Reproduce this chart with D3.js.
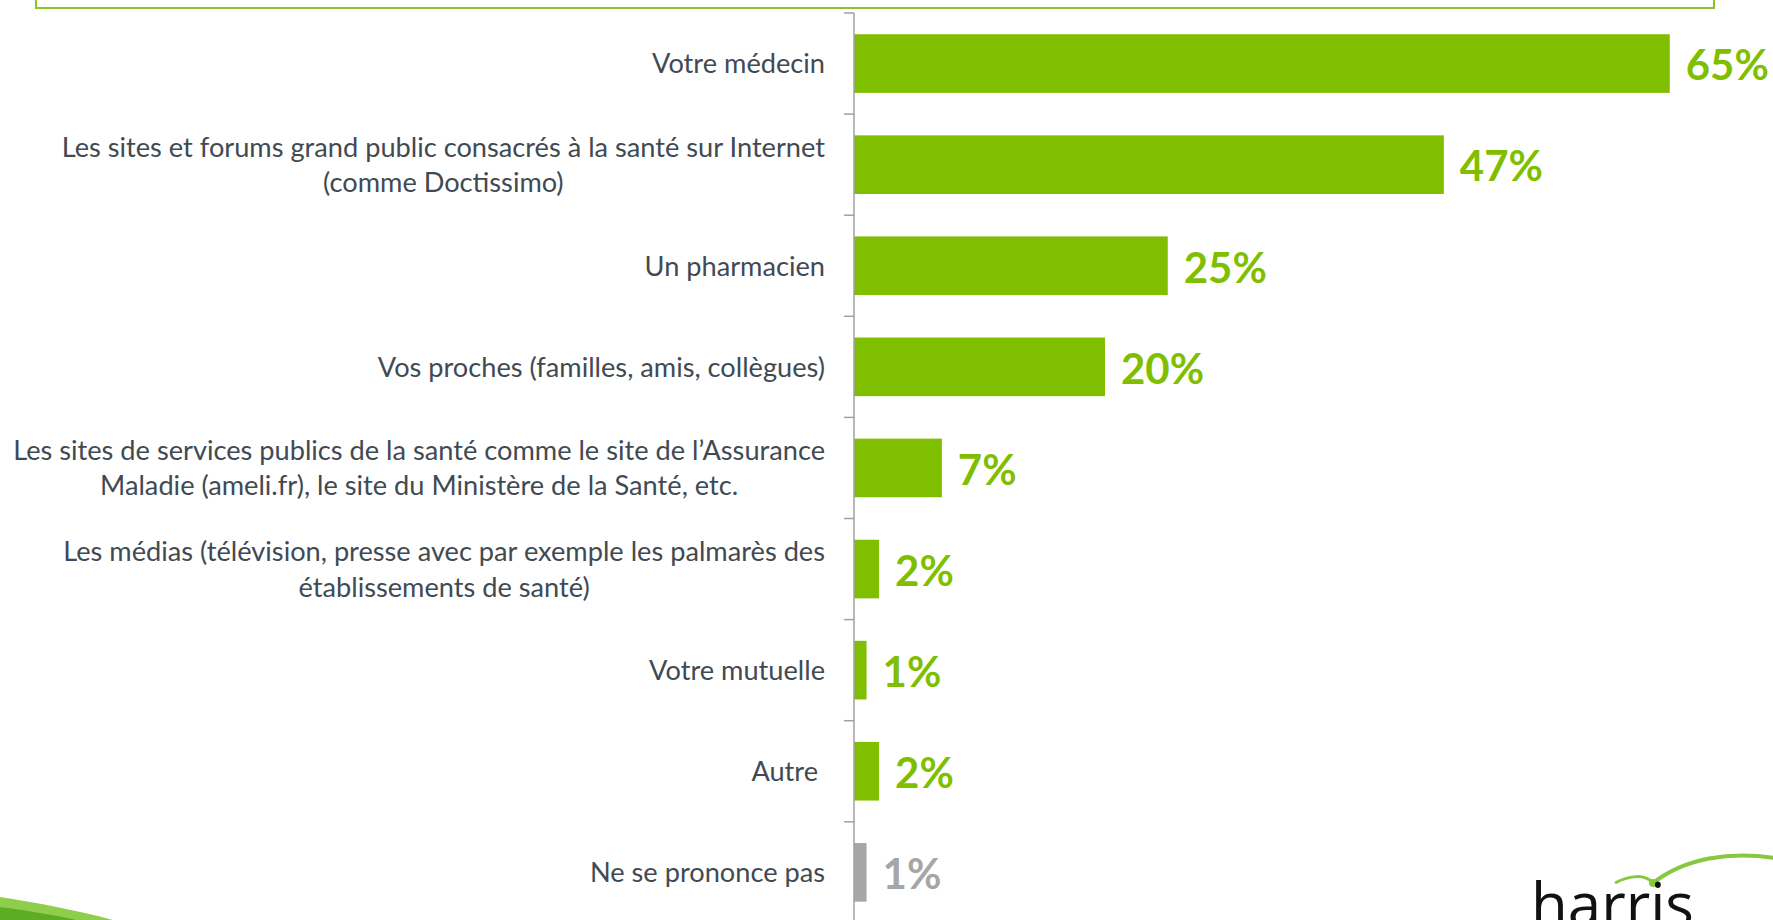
<!DOCTYPE html>
<html>
<head>
<meta charset="utf-8">
<script src="https://cdnjs.cloudflare.com/ajax/libs/d3/7.8.5/d3.min.js"></script>
<style>
    html, body { margin: 0; padding: 0; background: #fff; overflow: hidden; }
    svg { display: block; }
</style>
</head>
<body>
<svg id="chart" width="1773" height="920"></svg>
<script>
// categories (one array entry per line of the label)
var categories = [
    ["Votre médecin"],
    ["Les sites et forums grand public consacrés à la santé sur Internet", "(comme Doctissimo)"],
    ["Un pharmacien"],
    ["Vos proches (familles, amis, collègues)"],
    ["Les sites de services publics de la santé comme le site de l\u2019Assurance", "Maladie (ameli.fr), le site du Ministère de la Santé, etc."],
    ["Les médias (télévision, presse avec par exemple les palmarès des", "établissements de santé)"],
    ["Votre mutuelle"],
    ["Autre\u00a0"],
    ["Ne se prononce pas"]
];
var values = [65, 47, 25, 20, 7, 2, 1, 2, 1];
var isNoAnswer = [false, false, false, false, false, false, false, false, true];

var green = "#7fbf00";
var grey = "#a6a6a6";
var textColor = "#414a52";

var svg = d3.select("#chart");
var width = 1773, height = 920;

var axisX = 854;

var x = d3.scaleLinear()
    .domain([0, 100])
    .range([axisX, axisX + 1255]);

var y = d3.scaleBand()
    .domain(d3.range(categories.length))
    .range([13, 13 + 101.1 * categories.length])
    .paddingInner(0.42)
    .paddingOuter(0.21);

// question box bottom border (box is cut at the top of the slide)
svg.append("rect")
    .attr("x", 36)
    .attr("y", -40)
    .attr("width", 1678)
    .attr("height", 48)
    .attr("fill", "none")
    .attr("stroke", "#86c324")
    .attr("stroke-width", 2);

// bars
svg.append("g")
    .selectAll("rect")
    .data(values)
    .join("rect")
    .attr("x", x(0))
    .attr("y", function(d, i) { return y(i); })
    .attr("width", function(d) { return x(d) - x(0); })
    .attr("height", y.bandwidth())
    .attr("fill", function(d, i) { return isNoAnswer[i] ? grey : green; });

// value labels
svg.append("g")
    .selectAll("text")
    .data(values)
    .join("text")
    .attr("x", function(d) { return x(d) + 16; })
    .attr("y", function(d, i) { return y(i) + y.bandwidth() / 2; })
    .attr("dy", "0.4em")
    .attr("font-family", "Lato, sans-serif")
    .attr("font-weight", "bold")
    .attr("font-size", 42)
    .attr("fill", function(d, i) { return isNoAnswer[i] ? grey : green; })
    .text(function(d) { return d + "%"; });

// axis line + ticks on band boundaries
var axis = svg.append("g");
var top0 = y.range()[0];
axis.append("line")
    .attr("x1", axisX).attr("x2", axisX)
    .attr("y1", top0).attr("y2", height + 5)
    .attr("stroke", "#a0a0a0")
    .attr("stroke-width", 1.5);

axis.selectAll("line.tick")
    .data(d3.range(categories.length + 1))
    .join("line")
    .attr("class", "tick")
    .attr("x1", axisX - 10).attr("x2", axisX)
    .attr("y1", function(k) { return top0 + k * y.step(); })
    .attr("y2", function(k) { return top0 + k * y.step(); })
    .attr("stroke", "#a0a0a0")
    .attr("stroke-width", 1.5);

// category labels: block right-aligned, lines centred inside the block
var labelRight = 825;
var lineH = 35.5;
var labels = svg.append("g")
    .attr("font-family", "Lato, sans-serif")
    .attr("font-size", 27.2)
    .attr("fill", textColor);

categories.forEach(function(lines, i) {
    var g = labels.append("g");
    var cy = y(i) + y.bandwidth() / 2;
    var texts = g.selectAll("text")
        .data(lines)
        .join("text")
        .attr("y", function(d, j) { return cy + (j - (lines.length - 1) / 2) * lineH; })
        .attr("dy", "0.36em")
        .text(function(d) { return d; });
    var maxW = 0;
    texts.each(function() { maxW = Math.max(maxW, this.getComputedTextLength()); });
    texts.attr("x", labelRight - maxW / 2)
        .attr("text-anchor", "middle");
});

// bottom-left swoosh
var deco = svg.append("g");
deco.append("path")
    .attr("d", "M0,897 C40,903 85,912 120,922 L0,922 Z")
    .attr("fill", "#8fcd4c");
deco.append("path")
    .attr("d", "M0,907 C30,911 60,916 85,922 L0,922 Z")
    .attr("fill", "#5cad22");

// harris logo (cut by the bottom edge, as in the slide)
var logo = svg.append("g");
logo.append("path")
    .attr("d", "M1615,883 C1630,875 1645,874 1653,883")
    .attr("fill", "none")
    .attr("stroke", "#86c940")
    .attr("stroke-width", 3);
logo.append("path")
    .attr("d", "M1653,883 C1685,858 1730,851 1775,858")
    .attr("fill", "none")
    .attr("stroke", "#86c940")
    .attr("stroke-width", 4);
logo.append("circle")
    .attr("cx", 1653)
    .attr("cy", 883)
    .attr("r", 4)
    .attr("fill", "#86c940");
logo.append("text")
    .attr("x", 1531)
    .attr("y", 926)
    .attr("font-family", "'Open Sans', sans-serif")
    .attr("font-size", 60)
    .attr("fill", "#111")
    .text("harris");
</script>
</body>
</html>
